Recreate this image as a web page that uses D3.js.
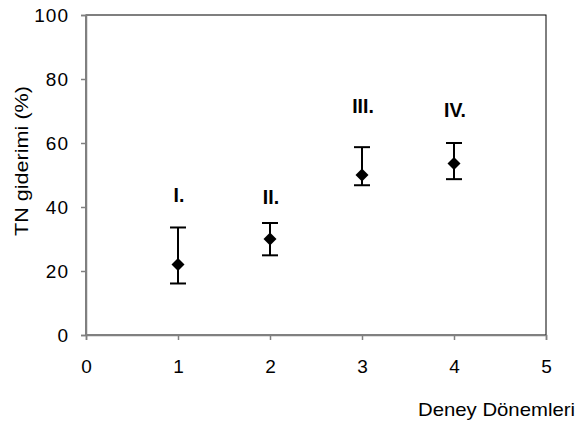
<!DOCTYPE html>
<html>
<head>
<meta charset="utf-8">
<script src="https://cdn.jsdelivr.net/npm/d3@7"></script>
<style>
  body { margin: 0; background: #fff; }
  text { font-family: "Liberation Sans", Arial, sans-serif; fill: #000; }
</style>
</head>
<body>
<div id="chart"></div>
<script>
// chart data
const periods = [1, 2, 3, 4];
const means = [22, 30, 50, 53.6];
const upper = [33.6, 35, 58.7, 60];
const lower = [16.1, 24.9, 46.8, 48.7];
const periodLabels = ["I.", "II.", "III.", "IV."];
const labelLevels = [41.6, 41, 69.4, 68.2];
const xTicks = [0, 1, 2, 3, 4, 5];
const yTicks = [0, 20, 40, 60, 80, 100];

const FRAME_WIDTH = 578;
const FRAME_HEIGHT = 425;
const MARGINS = {left: 86, right: 32, top: 15, bottom: 90};

const FRAME1 = d3.select("#chart")
  .append("svg")
    .attr("width", FRAME_WIDTH)
    .attr("height", FRAME_HEIGHT);

const X_SCALE = d3.scaleLinear()
  .domain([0, 5])
  .range([MARGINS.left, FRAME_WIDTH - MARGINS.right]);

const Y_SCALE = d3.scaleLinear()
  .domain([0, 100])
  .range([FRAME_HEIGHT - MARGINS.bottom, MARGINS.top]);

// plot area border (top and right black)
FRAME1.append("rect")
  .attr("x", X_SCALE(0))
  .attr("y", Y_SCALE(100))
  .attr("width", X_SCALE(5) - X_SCALE(0))
  .attr("height", Y_SCALE(0) - Y_SCALE(100))
  .attr("fill", "none")
  .attr("stroke", "#000")
  .attr("stroke-width", 1);

// y axis
const yAxis = FRAME1.append("g")
  .attr("transform", "translate(" + X_SCALE(0) + ",0)")
  .call(d3.axisLeft(Y_SCALE).tickValues(yTicks).tickFormat(d3.format("d")).tickSize(5).tickPadding(12));
yAxis.selectAll("path, line").attr("stroke", "#808080").attr("stroke-width", 1.5);
yAxis.selectAll("text")
  .attr("font-size", 19)
  .attr("letter-spacing", 1)
  .attr("font-family", "Liberation Sans, Arial, sans-serif");

// x axis
const xAxis = FRAME1.append("g")
  .attr("transform", "translate(0," + Y_SCALE(0) + ")")
  .call(d3.axisBottom(X_SCALE).tickValues(xTicks).tickFormat(d3.format("d")).tickSize(5).tickPadding(20));
xAxis.selectAll("path, line").attr("stroke", "#808080").attr("stroke-width", 1.5);
xAxis.selectAll("text")
  .attr("font-size", 19)
  .attr("font-family", "Liberation Sans, Arial, sans-serif");

// axis titles
FRAME1.append("text")
  .attr("x", 575)
  .attr("y", 416)
  .attr("text-anchor", "end")
  .attr("font-size", 18.5)
  .attr("textLength", 157)
  .attr("lengthAdjust", "spacingAndGlyphs")
  .text("Deney Dönemleri");

FRAME1.append("text")
  .attr("transform", "translate(28,161) rotate(-90)")
  .attr("text-anchor", "middle")
  .attr("font-size", 18.5)
  .attr("textLength", 150)
  .attr("lengthAdjust", "spacingAndGlyphs")
  .text("TN giderimi (%)");

// error bars
const CAP = 8;
const bars = FRAME1.append("g").attr("stroke", "#000").attr("stroke-width", 2);
periods.forEach((p, i) => {
  const cx = X_SCALE(p);
  bars.append("line")
    .attr("x1", cx).attr("x2", cx)
    .attr("y1", Y_SCALE(upper[i])).attr("y2", Y_SCALE(lower[i]));
  bars.append("line")
    .attr("x1", cx - CAP).attr("x2", cx + CAP)
    .attr("y1", Y_SCALE(upper[i])).attr("y2", Y_SCALE(upper[i]));
  bars.append("line")
    .attr("x1", cx - CAP).attr("x2", cx + CAP)
    .attr("y1", Y_SCALE(lower[i])).attr("y2", Y_SCALE(lower[i]));
});

// diamond markers
FRAME1.selectAll(".point")
  .data(periods)
  .enter()
  .append("path")
    .attr("class", "point")
    .attr("d", d3.symbol(d3.symbolSquare, 85))
    .attr("transform", (d, i) => "translate(" + X_SCALE(d) + "," + Y_SCALE(means[i]) + ") rotate(45)")
    .attr("fill", "#000");

// period labels
FRAME1.selectAll(".plabel")
  .data(periods)
  .enter()
  .append("text")
    .attr("class", "plabel")
    .attr("x", (d) => X_SCALE(d) + 1)
    .attr("y", (d, i) => Y_SCALE(labelLevels[i]))
    .attr("text-anchor", "middle")
    .attr("font-size", 19.5)
    .attr("font-weight", "bold")
    .text((d, i) => periodLabels[i]);
</script>
</body>
</html>
